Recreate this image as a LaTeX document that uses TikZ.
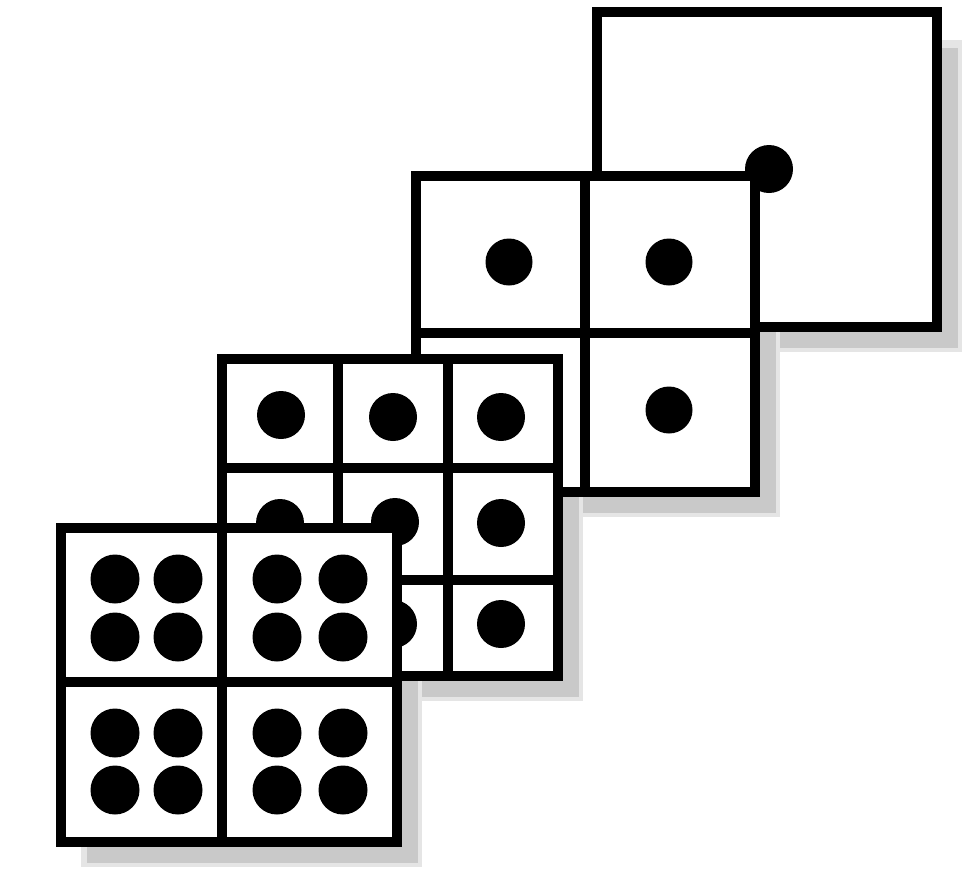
\documentclass[tikz,border=0pt]{standalone}
\begin{document}
\begin{tikzpicture}[x=0.02cm,y=-0.02cm,
  gridline/.style={line width=0.21cm, line join=miter, draw=black},
  cellfill/.style={fill=white},
  shadowsoft/.style={fill=black!10},
  shadowcore/.style={fill=black!21},
  dotfill/.style={fill=black}]
\useasboundingbox (0,0) rectangle (969,877);
\fill[white] (0,0) rectangle (969,877);

% drop shadows (behind every layer)
\foreach \a/\b/\c/\d in {597/12/937/327, 416/176/755/492, 222/359/558/676, 61/528/397/842}{
  \fill[shadowsoft] (\a+20,\b+28) rectangle (\c+25,\d+25);
  \fill[shadowcore] (\a+26,\b+36) rectangle (\c+21,\d+21);
}

% layer 1: 1x1
\draw[gridline,cellfill] (597,12) rectangle (937,327);
\fill[dotfill] (769,169) circle (24);

% layer 2: 2x2
\draw[gridline,cellfill] (416,176) rectangle (755,492);
\draw[gridline] (585,176) -- (585,492) (416,333) -- (755,333);
\foreach \p in {(509,262),(669,262),(669,410)} \fill[dotfill] \p circle (23.5);

% layer 3: 3x3
\draw[gridline,cellfill] (222,359) rectangle (558,676);
\draw[gridline] (338,359) -- (338,676) (448,359) -- (448,676)
                (222,468) -- (558,468) (222,580) -- (558,580);
\foreach \p in {(281,415),(393,417),(501,417),
                (280,523),(395,522),(501,523),
                (393,624),(501,624)} \fill[dotfill] \p circle (24);

% layer 4: 2x2 with four dots per cell
\draw[gridline,cellfill] (61,528) rectangle (397,842);
\draw[gridline] (222,528) -- (222,842) (61,682) -- (397,682);
\foreach \cx in {115,178,277,343}{
  \foreach \cy in {579,637,733,790}{
    \fill[dotfill] (\cx,\cy) circle (24.5);
  }
}
\end{tikzpicture}
\end{document}
